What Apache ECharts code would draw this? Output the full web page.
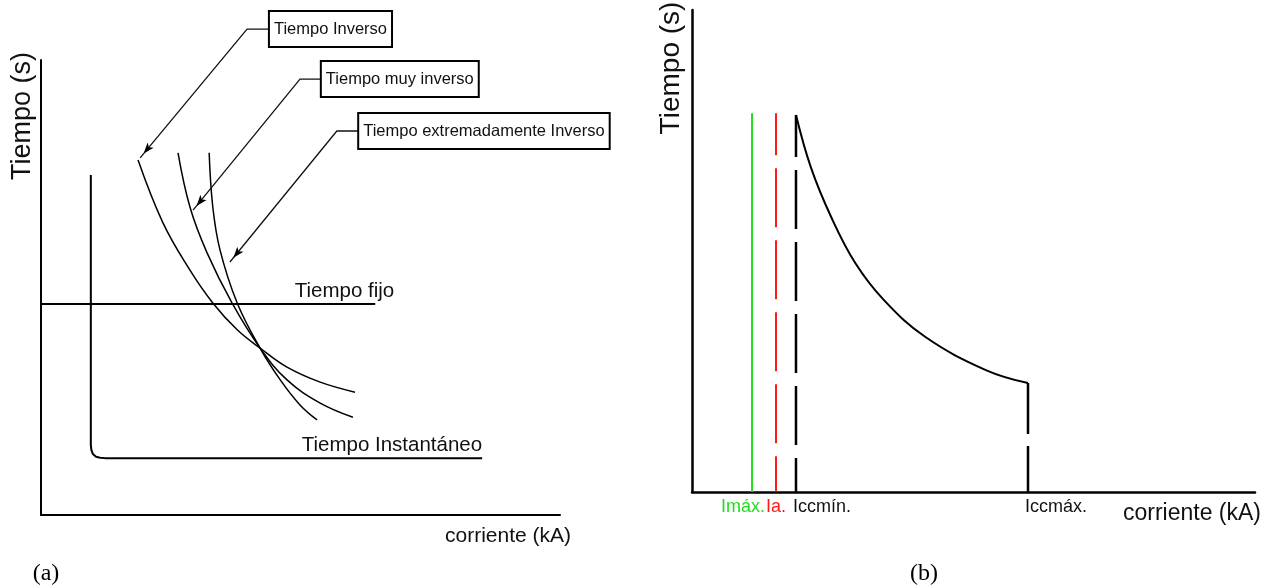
<!DOCTYPE html>
<html>
<head>
<meta charset="utf-8">
<title>Curvas tiempo-corriente</title>
<script src="https://cdn.jsdelivr.net/npm/echarts@6/dist/echarts.min.js"></script>
<style>
  html, body { margin: 0; padding: 0; background: #fff; }
  #main { width: 1273px; height: 588px; }
</style>
</head>
<body>
<div id="main"></div>
<script>
// (a) tipos de curva, [corriente, tiempo] en unidades relativas 0-100
const tiempoInverso = [[18.7, 78.0], [23.5, 64.2], [28.7, 53.8], [33.1, 46.6], [37.8, 40.7], [42.2, 36.7], [47.4, 32.5], [53.8, 29.2], [60.5, 27.0]];
const tiempoMuyInverso = [[26.4, 79.6], [28.7, 67.7], [32.0, 57.6], [36.8, 46.6], [42.2, 36.7], [47.4, 29.7], [53.8, 24.6], [60.1, 21.5]];
const tiempoExtInverso = [[32.4, 79.6], [33.1, 67.7], [34.5, 58.2], [37.8, 46.6], [42.2, 36.7], [46.1, 29.7], [49.9, 24.2], [53.2, 20.9]];
const tiempoFijo = [[0, 46.4], [64.4, 46.4]];
const tiempoInstantaneo = [[9.6, 74.7], [9.6, 15.4], [9.7, 14.3], [10.0, 13.4], [10.6, 12.8], [11.4, 12.6], [12.3, 12.5], [85.0, 12.5]];
// notas: [caja, codo, punta de flecha]
const notaInverso = [[44.1, 106.8], [39.7, 106.8], [19.1, 78.5]];
const notaMuyInverso = [[54.1, 95.8], [49.9, 95.8], [29.3, 67.0]];
const notaExtInverso = [[61.3, 84.4], [57.0, 84.4], [36.4, 55.6]];

// (b) curva de proteccion
const corrienteLabels = ['Imáx.', 'Ia.', 'Iccmín.', 'Iccmáx.'];
const corrienteValues = [10.66, 14.92, 18.47, 59.68];
const tiempoTope = 78.6;
const curvaProteccion = [[18.47, 78.2], [21.1, 67.4], [24.7, 57.1], [29.0, 47.5], [34.1, 39.8], [41.4, 32.2], [52.2, 25.3], [59.68, 22.6]];

const SANS = "'Liberation Sans', Arial, sans-serif";
const SERIF = "'Liberation Serif', 'Times New Roman', serif";

function plain(id, grid, data, lineStyle, smooth) {
  return {
    id: id, type: 'line', xAxisIndex: grid, yAxisIndex: grid,
    data: data, smooth: smooth || false, symbol: 'none', silent: true, clip: false,
    lineStyle: Object.assign({ color: '#000', width: 1.5 }, lineStyle)
  };
}

function tagLast(data, text, label) {
  return data.map(function (p, i) {
    if (i !== data.length - 1) return p;
    return {
      value: p, symbol: 'circle', symbolSize: 0.1,
      label: Object.assign({ show: true, formatter: text, fontSize: 20.5, fontFamily: SANS, color: '#111' }, label)
    };
  });
}

function leader(id, pts, text, rot, off) {
  return {
    id: id, type: 'line', xAxisIndex: 0, yAxisIndex: 0, symbol: 'none', silent: true, clip: false,
    lineStyle: { color: '#111', width: 1.3 },
    data: [
      { value: pts[0], symbol: 'circle', symbolSize: 0.1,
        label: { show: true, position: 'right', distance: 0, formatter: text, fontSize: 16.5, fontFamily: SANS,
                 color: '#111', lineHeight: 24, padding: [5, 4, 5, 4], borderColor: '#000', borderWidth: 2, backgroundColor: '#fff' } },
      pts[1],
      { value: pts[2], symbol: 'arrow', symbolSize: [6, 11], symbolRotate: rot || 0, symbolOffset: off || [0, 0], itemStyle: { color: '#000' } }
    ]
  };
}

function nearest(v) {
  let best = 0;
  corrienteValues.forEach(function (c, i) { if (Math.abs(c - v) < Math.abs(corrienteValues[best] - v)) best = i; });
  return best;
}
const richKeys = ['im', 'ia', 'cmin', 'cmax'];

const notas = [['notaInverso', notaInverso, 'Tiempo Inverso'],
               ['notaMuyInverso', notaMuyInverso, 'Tiempo muy inverso'],
               ['notaExtInverso', notaExtInverso, 'Tiempo extremadamente Inverso']];

const baseAxis = {
  type: 'value', min: 0, max: 100,
  axisTick: { show: false }, axisLabel: { show: false }, splitLine: { show: false }
};

const option = {
  animation: false,
  backgroundColor: '#fff',
  grid: [
    { left: 41, top: 60, width: 519, height: 455 },
    { left: 692, top: 10, width: 563, height: 482 }
  ],
  xAxis: [
    Object.assign({}, baseAxis, { gridIndex: 0, axisLine: { lineStyle: { color: '#000', width: 2 } } }),
    Object.assign({}, baseAxis, {
      gridIndex: 1, axisLine: { lineStyle: { color: '#000', width: 2.5 } },
      axisLabel: {
        show: true, customValues: corrienteValues, margin: 6, showMinLabel: true, showMaxLabel: true, hideOverlap: false,
        formatter: function (v) { const i = nearest(v); return '{' + richKeys[i] + '|' + corrienteLabels[i] + '}'; },
        rich: {
          im: { color: '#22dd22', fontSize: 18, fontFamily: SANS, padding: [0, 18, 0, 0] },
          ia: { color: '#ff1a1a', fontSize: 18, fontFamily: SANS },
          cmin: { color: '#111', fontSize: 18, fontFamily: SANS, padding: [0, 0, 0, 52] },
          cmax: { color: '#111', fontSize: 18, fontFamily: SANS, padding: [0, 0, 0, 56] }
        }
      }
    })
  ],
  yAxis: [
    Object.assign({}, baseAxis, { gridIndex: 0, axisLine: { lineStyle: { color: '#000', width: 2 } } }),
    Object.assign({}, baseAxis, { gridIndex: 1, axisLine: { lineStyle: { color: '#000', width: 2.5 } } })
  ],
  graphic: [
    { type: 'text', x: 23, y: 116, rotation: Math.PI / 2,
      style: { text: 'Tiempo (s)', fontSize: 27, fontFamily: SANS, fill: '#111', align: 'center', verticalAlign: 'middle', textAlign: 'center', textVerticalAlign: 'middle' } },
    { type: 'text', x: 671, y: 68, rotation: Math.PI / 2,
      style: { text: 'Tiempo (s)', fontSize: 28, fontFamily: SANS, fill: '#111', align: 'center', verticalAlign: 'middle', textAlign: 'center', textVerticalAlign: 'middle' } },
    { type: 'text', x: 508, y: 536,
      style: { text: 'corriente (kA)', fontSize: 21, fontFamily: SANS, fill: '#111', align: 'center', verticalAlign: 'middle', textAlign: 'center', textVerticalAlign: 'middle' } },
    { type: 'text', x: 1192, y: 514,
      style: { text: 'corriente (kA)', fontSize: 23, fontFamily: SANS, fill: '#111', align: 'center', verticalAlign: 'middle', textAlign: 'center', textVerticalAlign: 'middle' } },
    { type: 'text', x: 46, y: 574,
      style: { text: '(a)', fontSize: 24, fontFamily: SERIF, fill: '#000', align: 'center', verticalAlign: 'middle', textAlign: 'center', textVerticalAlign: 'middle' } },
    { type: 'text', x: 924, y: 574,
      style: { text: '(b)', fontSize: 24, fontFamily: SERIF, fill: '#000', align: 'center', verticalAlign: 'middle', textAlign: 'center', textVerticalAlign: 'middle' } }
  ],
  series: [
    plain('fijo', 0, tagLast(tiempoFijo, 'Tiempo fijo', { position: 'top', align: 'right', offset: [19, 0], distance: 2 }), { width: 2 }),
    plain('instantaneo', 0, tagLast(tiempoInstantaneo, 'Tiempo Instantáneo', { position: 'top', align: 'right', distance: 2 }), { width: 2 }),
    plain('inverso', 0, tiempoInverso, {}, 0.4),
    plain('muyInverso', 0, tiempoMuyInverso, {}, 0.4),
    plain('extInverso', 0, tiempoExtInverso, {}, 0.4),
    leader(notas[0][0], notas[0][1], notas[0][2]),
    leader(notas[1][0], notas[1][1], notas[1][2]),
    leader(notas[2][0], notas[2][1], notas[2][2]),

    plain('imax', 1, [[corrienteValues[0], tiempoTope], [corrienteValues[0], 0]], { color: '#22dd22', width: 2 }),
    plain('ia', 1, [[corrienteValues[1], tiempoTope], [corrienteValues[1], 0]], { color: '#ff1a1a', width: 2, type: [59, 13], dashOffset: 17 }),
    plain('iccmin', 1, [[corrienteValues[2], curvaProteccion[0][1]], [corrienteValues[2], 0]], { width: 2.5, type: [59, 13], dashOffset: 17 }),
    plain('curva', 1, curvaProteccion, { width: 2 }, 0.4),
    plain('iccmax', 1, [[corrienteValues[3], curvaProteccion[curvaProteccion.length - 1][1]], [corrienteValues[3], 0]], { width: 2.5, type: [51, 12] })
  ]
};

const chart = echarts.init(document.getElementById('main'));
chart.setOption(option);

// orientar las puntas de flecha segun su linea guia
chart.setOption({
  series: notas.map(function (n) {
    const a = chart.convertToPixel({ gridIndex: 0 }, n[1][1]);
    const b = chart.convertToPixel({ gridIndex: 0 }, n[1][2]);
    const dx = b[0] - a[0], dy = b[1] - a[1], len = Math.hypot(dx, dy);
    const rot = Math.atan2(-dx, -dy) * 180 / Math.PI;
    return leader(n[0], n[1], n[2], rot, [-dx / len * 5.5, -dy / len * 5.5]);
  })
});
</script>
</body>
</html>
